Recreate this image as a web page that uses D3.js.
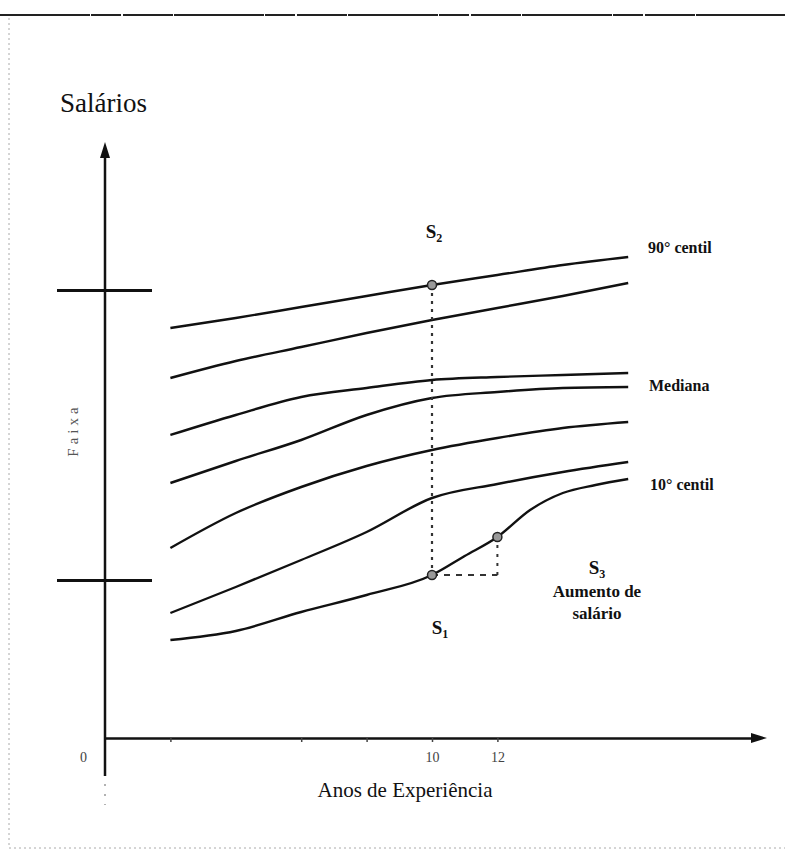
<!DOCTYPE html>
<html>
<head>
<meta charset="utf-8">
<script src="https://cdn.jsdelivr.net/npm/d3@7"></script>
<style>
  body { margin: 0; background: #fff; }
  svg { display: block; }
  text { font-family: "Liberation Serif", "Times New Roman", serif; fill: #111; }
</style>
</head>
<body>
<svg width="785" height="856"></svg>
<script>
// anos de experiencia (eixo x) e curvas de salario (unidades arbitrarias)
var years = [2, 4, 6, 8, 10, 12, 14, 16];
var centil90 = [102.5, 105, 107.75, 110.5, 113.25, 115.75, 118.25, 120.25];
var curve2 = [90, 94.25, 97.75, 101.25, 104.5, 107.5, 110.5, 113.75];
var curve3 = [75.75, 80.75, 85.25, 87.5, 89.5, 90.25, 90.75, 91.25];
var mediana = [63.75, 69.25, 74.5, 80.75, 85, 86.5, 87.5, 87.75];
var curve5 = [47.5, 56.25, 62.75, 68, 72, 75, 77.5, 79];
var curve6 = [31.25, 37.75, 44.5, 51.5, 60, 63.5, 66.5, 69];
// 10o centil tem forma de S, por isso mais pontos
var yearsLow = [2, 4, 6, 8, 10, 11, 12, 13, 14, 15, 16];
var centil10 = [24.5, 26.75, 31.5, 35.75, 40.75, 45.5, 50.25, 57, 61.25, 63.25, 64.75];

var faixaTicks = [39.5, 112];   // limites da faixa salarial
var xTickValues = [2, 6, 8, 10, 12];
var xTickLabels = ["", "", "", "10", "12"];

var svg = d3.select("svg");

// moldura (scan)
svg.append("line").attr("x1", 0).attr("x2", 785).attr("y1", 15).attr("y2", 15)
  .attr("stroke", "#222").attr("stroke-width", 2).attr("stroke-dasharray", "90,1,30,2,50,1");
svg.append("line").attr("x1", 9).attr("x2", 9).attr("y1", 18).attr("y2", 848)
  .attr("stroke", "#aaa").attr("stroke-width", 1).attr("stroke-dasharray", "2,3");
svg.append("line").attr("x1", 9).attr("x2", 785).attr("y1", 848).attr("y2", 848)
  .attr("stroke", "#aaa").attr("stroke-width", 1).attr("stroke-dasharray", "2,3");

var xScale = d3.scaleLinear().domain([0, 20]).range([105, 759]);
var yScale = d3.scaleLinear().domain([0, 147.5]).range([738, 148]);

// eixo x
var xAxis = svg.append("g")
  .attr("transform", "translate(0," + yScale(0) + ")")
  .call(d3.axisBottom(xScale).tickValues(xTickValues).tickSizeInner(4).tickSizeOuter(0)
    .tickFormat(function(d, i) { return xTickLabels[i]; }));
xAxis.select(".domain").attr("stroke", "#111").attr("stroke-width", 2.5);
xAxis.selectAll(".tick line").attr("stroke", "#444").attr("stroke-width", 1.5);
xAxis.selectAll(".tick text").attr("font-size", "14px").attr("y", 0).attr("dy", 0)
  .attr("transform", "translate(0,24)")
  .style("fill", "#444").style("font-family", "Liberation Serif");
svg.append("path")
  .attr("d", "M" + (xScale(20) - 8) + "," + (yScale(0) - 5) + "L" + (xScale(20) + 8) + "," + yScale(0) +
    "L" + (xScale(20) - 8) + "," + (yScale(0) + 5) + "Z")
  .attr("fill", "#111");

// eixo y
var yAxis = svg.append("g")
  .attr("transform", "translate(" + xScale(0) + ",0)")
  .call(d3.axisLeft(yScale).tickValues(faixaTicks).tickSizeInner(48).tickSizeOuter(0).tickFormat(""));
yAxis.select(".domain").remove();
yAxis.selectAll(".tick line").attr("x1", 47).attr("stroke", "#111").attr("stroke-width", 3);
svg.append("line")
  .attr("x1", xScale(0)).attr("x2", xScale(0))
  .attr("y1", yScale(147.5)).attr("y2", 776)
  .attr("stroke", "#111").attr("stroke-width", 2.5);
svg.append("line")
  .attr("x1", xScale(0)).attr("x2", xScale(0)).attr("y1", 784).attr("y2", 805)
  .attr("stroke", "#999").attr("stroke-width", 1.5).attr("stroke-dasharray", "2,8");
svg.append("path")
  .attr("d", "M" + (xScale(0) - 5) + "," + (yScale(147.5) + 10) + "L" + xScale(0) + "," + (yScale(147.5) - 6) +
    "L" + (xScale(0) + 5) + "," + (yScale(147.5) + 10) + "Z")
  .attr("fill", "#111");

svg.append("text").attr("x", 80).attr("y", 762).attr("font-size", "14px")
  .style("fill", "#444").text("0");
svg.append("text")
  .attr("transform", "translate(78,430) rotate(-90)")
  .attr("text-anchor", "middle").attr("font-size", "15px").attr("letter-spacing", "4px")
  .style("fill", "#555").text("Faixa");

svg.append("text").attr("x", 60).attr("y", 112).attr("font-size", "27px").text("Salários");
svg.append("text").attr("x", 405).attr("y", 797).attr("text-anchor", "middle")
  .attr("font-size", "21px").text("Anos de Experiência");

// curvas
var line = d3.line()
  .x(function(d) { return xScale(d[0]); })
  .y(function(d) { return yScale(d[1]); })
  .curve(d3.curveMonotoneX);

var series = [centil90, curve2, curve3, mediana, curve5, curve6];
series.forEach(function(s) {
  svg.append("path")
    .datum(years.map(function(y, i) { return [y, s[i]]; }))
    .attr("d", line)
    .attr("fill", "none").attr("stroke", "#111").attr("stroke-width", 2.4);
});
svg.append("path")
  .datum(yearsLow.map(function(y, i) { return [y, centil10[i]]; }))
  .attr("d", line)
  .attr("fill", "none").attr("stroke", "#111").attr("stroke-width", 2.4);

// pontos S1, S2, S3
var s2 = [10, centil90[4]];
var s1 = [10, centil10[4]];
var s3 = [12, centil10[6]];

svg.append("line")
  .attr("x1", xScale(s2[0])).attr("x2", xScale(s1[0]))
  .attr("y1", yScale(s2[1])).attr("y2", yScale(s1[1]))
  .attr("stroke", "#333").attr("stroke-width", 2.2).attr("stroke-dasharray", "3,5");
svg.append("line")
  .attr("x1", xScale(s1[0])).attr("x2", xScale(s3[0]))
  .attr("y1", yScale(s1[1])).attr("y2", yScale(s1[1]))
  .attr("stroke", "#333").attr("stroke-width", 2).attr("stroke-dasharray", "6,6");
svg.append("line")
  .attr("x1", xScale(s3[0])).attr("x2", xScale(s3[0]))
  .attr("y1", yScale(s1[1])).attr("y2", yScale(s3[1]))
  .attr("stroke", "#333").attr("stroke-width", 2).attr("stroke-dasharray", "3,6");

[s2, s1, s3].forEach(function(p) {
  svg.append("circle")
    .attr("cx", xScale(p[0])).attr("cy", yScale(p[1])).attr("r", 4.5)
    .attr("fill", "#999").attr("stroke", "#222").attr("stroke-width", 1.5);
});

function sLabel(x, y, sub) {
  var t = svg.append("text").attr("x", x).attr("y", y).attr("text-anchor", "middle")
    .attr("font-size", "19px").attr("font-weight", "bold");
  t.append("tspan").text("S");
  t.append("tspan").attr("font-size", "12px").attr("dy", 4).text(sub);
}
sLabel(434, 238, "2");
sLabel(440, 634, "1");
sLabel(597, 574, "3");

svg.append("text").attr("x", 597).attr("y", 597).attr("text-anchor", "middle")
  .attr("font-size", "17px").attr("font-weight", "bold").text("Aumento de");
svg.append("text").attr("x", 597).attr("y", 619).attr("text-anchor", "middle")
  .attr("font-size", "17px").attr("font-weight", "bold").text("salário");

svg.append("text").attr("x", 648).attr("y", 253).attr("font-size", "16px")
  .attr("font-weight", "bold").text("90° centil");
svg.append("text").attr("x", 649).attr("y", 391).attr("font-size", "16px")
  .attr("font-weight", "bold").text("Mediana");
svg.append("text").attr("x", 650).attr("y", 490).attr("font-size", "16px")
  .attr("font-weight", "bold").text("10° centil");
</script>
</body>
</html>
